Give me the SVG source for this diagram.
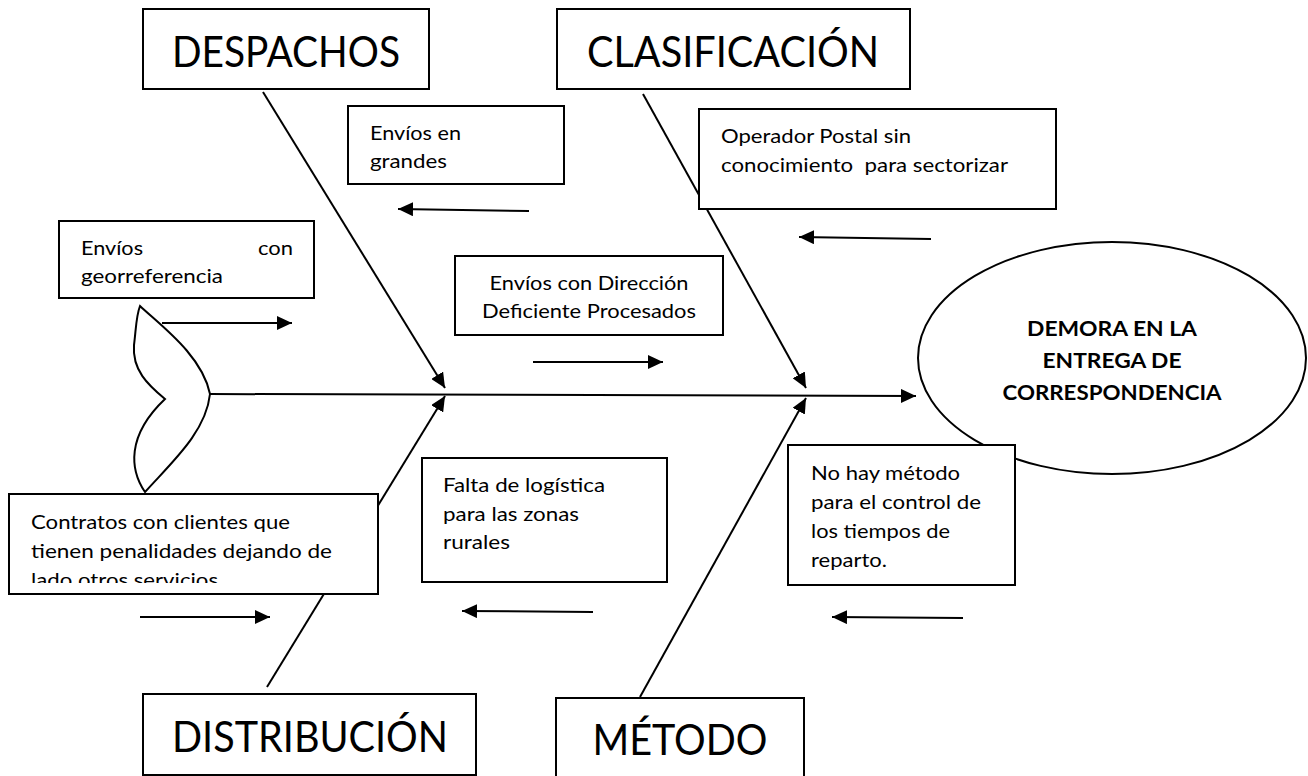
<svg xmlns="http://www.w3.org/2000/svg" width="1308" height="776" viewBox="0 0 1308 776">
<style>
  .box { fill: #fff; stroke: #000; stroke-width: 2; }
  .ln { fill: none; stroke: #000; stroke-width: 2; }
  .ar { fill: none; stroke: #000; stroke-width: 2; marker-end: url(#ah); }
  .t { font-family: Lato, "Liberation Sans", sans-serif; font-size: 20px; fill: #000; }
  .h { font-family: Lato, "Liberation Sans", sans-serif; font-size: 42px; fill: #000; text-anchor: middle; }
  .b { font-family: Lato, "Liberation Sans", sans-serif; font-size: 21px; font-weight: bold; fill: #000; text-anchor: middle; }
</style>
<defs>
  <marker id="ah" markerUnits="userSpaceOnUse" markerWidth="16" markerHeight="14" refX="15" refY="7" orient="auto">
    <path d="M0,0 L15,7 L0,14 z" fill="#000"/>
  </marker>
  <clipPath id="clipC"><rect x="10" y="495" width="367" height="88"/></clipPath>
</defs>
<rect width="1308" height="776" fill="#fff"/>

<g id="connectors">
  <path class="ar" d="M210,394 L916,396"/>
  <path class="ar" d="M263,92 L445,388"/>
  <path class="ar" d="M643,94 L806,388"/>
  <path class="ar" d="M267,687 L445,396"/>
  <path class="ar" d="M640,697 L806,398"/>
  <path class="ar" d="M162,323 L292,323"/>
  <path class="ar" d="M140,617 L270,617"/>
  <path class="ar" d="M529,211 L398,209"/>
  <path class="ar" d="M533,362 L663,362"/>
  <path class="ar" d="M931,239 L799,237"/>
  <path class="ar" d="M593,612 L462,611"/>
  <path class="ar" d="M963,618 L832,617"/>
</g>

<g id="tail">
  <path class="ln" fill="#fff" d="M140,306 C160,325 202,355 210,394 C206,432 172,462 145,492 C130,470 126,436 165,399 C148,385 132,370 134,345 C136,330 136,316 140,306 Z"/>
</g>

<g id="effect">
  <ellipse class="box" cx="1112" cy="358" rx="194" ry="116"/>
  <text class="b" x="1112" y="336" textLength="170" lengthAdjust="spacingAndGlyphs">DEMORA EN LA</text>
  <text class="b" x="1112" y="368" textLength="139" lengthAdjust="spacingAndGlyphs">ENTREGA DE</text>
  <text class="b" x="1112" y="400" textLength="219" lengthAdjust="spacingAndGlyphs">CORRESPONDENCIA</text>
</g>

<g id="despachos">
  <rect class="box" x="143" y="9" width="286" height="80"/>
  <text class="h" x="286" y="67" textLength="228" lengthAdjust="spacingAndGlyphs">DESPACHOS</text>
</g>

<g id="clasificacion">
  <rect class="box" x="557" y="9" width="353" height="80"/>
  <text class="h" x="733" y="67" textLength="292" lengthAdjust="spacingAndGlyphs">CLASIFICACIÓN</text>
</g>

<g id="distribucion">
  <rect class="box" x="143" y="694" width="333" height="81"/>
  <text class="h" x="310" y="752" textLength="276" lengthAdjust="spacingAndGlyphs">DISTRIBUCIÓN</text>
</g>

<g id="metodo">
  <rect class="box" x="556" y="698" width="248" height="92"/>
  <text class="h" x="680" y="755" textLength="175" lengthAdjust="spacingAndGlyphs">MÉTODO</text>
</g>

<g id="envios-grandes">
  <rect class="box" x="348" y="106" width="216" height="78"/>
  <text class="t" x="370" y="140" textLength="91" lengthAdjust="spacingAndGlyphs">Envíos en</text>
  <text class="t" x="370" y="168" textLength="77" lengthAdjust="spacingAndGlyphs">grandes</text>
</g>

<g id="envios-direccion">
  <rect class="box" x="455" y="256" width="268" height="79"/>
  <text class="t" x="589" y="290" text-anchor="middle" textLength="199" lengthAdjust="spacingAndGlyphs">Envíos con Dirección</text>
  <text class="t" x="589" y="318" text-anchor="middle" textLength="214" lengthAdjust="spacingAndGlyphs">Deficiente Procesados</text>
</g>

<g id="operador">
  <rect class="box" x="699" y="109" width="357" height="100"/>
  <text class="t" x="721" y="143" textLength="190" lengthAdjust="spacingAndGlyphs">Operador Postal sin</text>
  <text class="t" x="721" y="172" textLength="287" lengthAdjust="spacingAndGlyphs" xml:space="preserve">conocimiento  para sectorizar</text>
</g>

<g id="georreferencia">
  <rect class="box" x="59" y="221" width="255" height="77"/>
  <text class="t" x="81" y="255" textLength="62" lengthAdjust="spacingAndGlyphs">Envíos</text>
  <text class="t" x="293" y="255" text-anchor="end" textLength="35" lengthAdjust="spacingAndGlyphs">con</text>
  <text class="t" x="81" y="283" textLength="142" lengthAdjust="spacingAndGlyphs">georreferencia</text>
</g>

<g id="contratos">
  <rect class="box" x="9" y="494" width="369" height="100"/>
  <g clip-path="url(#clipC)">
    <text class="t" x="31" y="529" textLength="259" lengthAdjust="spacingAndGlyphs">Contratos con clientes que</text>
    <text class="t" x="31" y="558" textLength="301" lengthAdjust="spacingAndGlyphs">tienen penalidades dejando de</text>
    <text class="t" x="31" y="587" textLength="187" lengthAdjust="spacingAndGlyphs">lado otros servicios</text>
  </g>
</g>

<g id="falta-logistica">
  <rect class="box" x="422" y="458" width="245" height="124"/>
  <text class="t" x="443" y="492" textLength="162" lengthAdjust="spacingAndGlyphs">Falta de logística</text>
  <text class="t" x="443" y="521" textLength="136" lengthAdjust="spacingAndGlyphs">para las zonas</text>
  <text class="t" x="443" y="549" textLength="67" lengthAdjust="spacingAndGlyphs">rurales</text>
</g>

<g id="no-hay-metodo">
  <rect class="box" x="788" y="445" width="227" height="140"/>
  <text class="t" x="811" y="480" textLength="149" lengthAdjust="spacingAndGlyphs">No hay método</text>
  <text class="t" x="811" y="509" textLength="170" lengthAdjust="spacingAndGlyphs">para el control de</text>
  <text class="t" x="811" y="538" textLength="139" lengthAdjust="spacingAndGlyphs">los tiempos de</text>
  <text class="t" x="811" y="567" textLength="76" lengthAdjust="spacingAndGlyphs">reparto.</text>
</g>
</svg>
